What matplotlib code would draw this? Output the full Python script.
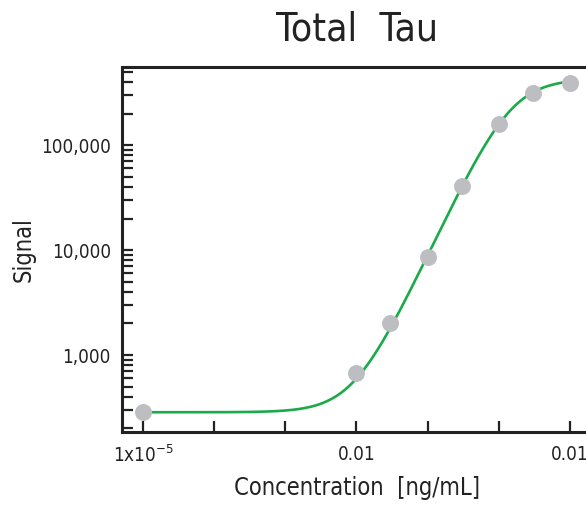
import numpy as np
import matplotlib
matplotlib.use('Agg')
import matplotlib.pyplot as plt
from matplotlib.ticker import FixedLocator, LogLocator, NullLocator, FuncFormatter

plt.rcParams['font.family'] = ['DejaVu Sans']
plt.rcParams['font.stretch'] = 'condensed'
plt.rcParams['mathtext.default'] = 'regular'

# standards
conc = [1e-5, 0.01, 0.03, 0.1, 0.3, 1, 3, 10]
signal = [287, 674, 2020, 8580, 40700, 158000, 312000, 390000]

# 4PL fit parameters (bottom, top, EC50, hill)
fit_bottom, fit_top, fit_ec50, fit_hill = 285, 430000, 1.46, 1.45

xticks = [1e-5, 1e-4, 1e-3, 1e-2, 1e-1, 1, 10]
xticklabels = ['1x10$^{-5}$', '', '', '0.01', '', '', '0.01']
yticks = [1000, 10000, 100000]

fig = plt.figure(figsize=(5.86, 5.08), dpi=100)
ax = fig.add_axes([0.208, 0.1496, 0.801, 0.718])

xs = np.logspace(-5, 1, 400)
ys = fit_top + (fit_bottom - fit_top) / (1 + (xs / fit_ec50) ** fit_hill)
ax.plot(xs, ys, color='#1aaa4a', lw=1.9, zorder=2)
ax.plot(conc, signal, 'o', ms=12.2, color='#bdbec2', mec='none', zorder=3, clip_on=False)

ax.set_xscale('log')
ax.set_yscale('log')
ax.set_xlim(10 ** -5.296, 10 ** 1.3)
ax.set_ylim(10 ** 2.2667, 10 ** 5.743)

ax.xaxis.set_major_locator(FixedLocator(xticks))
ax.xaxis.set_minor_locator(NullLocator())
ax.set_xticklabels(xticklabels)
ax.yaxis.set_major_locator(FixedLocator(yticks))
ax.yaxis.set_minor_locator(LogLocator(base=10, subs=np.arange(2, 10)))
ax.yaxis.set_major_formatter(FuncFormatter(lambda v, p: f'{int(v):,}'))
ax.yaxis.set_minor_formatter(FuncFormatter(lambda v, p: ''))

for s in ['left', 'bottom', 'top']:
    ax.spines[s].set_linewidth(2.2)
    ax.spines[s].set_color('#222222')
ax.spines['right'].set_visible(False)

ax.tick_params(axis='both', which='both', direction='in', length=8, width=1.6,
               color='#222222', labelsize=13.5, labelcolor='#222222')
ax.tick_params(axis='x', pad=9)
ax.tick_params(axis='y', pad=8)

ax.set_title('Total  Tau', fontsize=28, color='#222222', pad=19)
ax.set_xlabel('Concentration  [ng/mL]', fontsize=17, color='#222222', labelpad=7)
ax.set_ylabel('Signal', fontsize=17, color='#222222', labelpad=4)

fig.savefig('out.png', dpi=100)
